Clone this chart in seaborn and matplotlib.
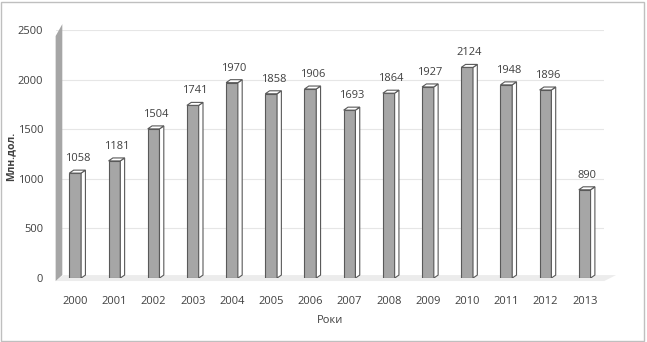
import matplotlib
matplotlib.use("Agg")
import matplotlib.pyplot as plt
import seaborn as sns
import pandas as pd
from matplotlib.patches import Polygon, Rectangle

years = ["2000", "2001", "2002", "2003", "2004", "2005", "2006",
         "2007", "2008", "2009", "2010", "2011", "2012", "2013"]
values = [1058, 1181, 1504, 1741, 1970, 1858, 1906,
          1693, 1864, 1927, 2124, 1948, 1896, 890]
yticks = [0, 500, 1000, 1500, 2000, 2500]

df = pd.DataFrame({"year": years, "value": values})

sns.set_style("white")
plt.rcParams['font.family'] = ['Open Sans', 'DejaVu Sans']

fig = plt.figure(figsize=(6.47, 3.42), dpi=100)
ax = fig.add_axes([0.086, 0.187, 0.848, 0.725])

sns.barplot(data=df, x="year", y="value", color="#a6a6a6", width=0.3,
            edgecolor="#595959", linewidth=0.8, ax=ax, zorder=3)

ax.set_xlim(-0.5, 13.5)
ax.set_ylim(0, 2500)
ax.set_yticks(yticks)
ax.grid(axis="y", color="#e6e6e6", linewidth=0.8, zorder=0)
ax.set_axisbelow(True)
for s in ax.spines.values():
    s.set_visible(False)
ax.tick_params(axis="both", length=0, labelsize=8, colors="#404040", pad=9)
ax.tick_params(axis="x", pad=13)
ax.set_xlabel("Роки", fontsize=8, color="#404040", labelpad=6)
ax.set_ylabel("Млн.дол.", fontsize=7.5, color="#404040", fontweight="bold")
ax.yaxis.set_label_coords(-0.072, 0.49)

# pseudo-3D side and top faces derived from bar geometry
dx = 0.11
dy = 30
for p in ax.patches:
    x0 = p.get_x(); w = p.get_width(); h = p.get_height()
    side = Polygon([[x0 + w, 0], [x0 + w + dx, dy], [x0 + w + dx, h + dy], [x0 + w, h]],
                   closed=True, facecolor="white", edgecolor="#595959",
                   linewidth=0.8, zorder=4)
    top = Polygon([[x0, h], [x0 + dx, h + dy], [x0 + w + dx, h + dy], [x0 + w, h]],
                  closed=True, facecolor="white", edgecolor="#595959",
                  linewidth=0.8, zorder=4)
    ax.add_patch(side)
    ax.add_patch(top)
    ax.text(x0 + w / 2 + dx / 2, h + dy + 60, f"{int(round(h))}", ha="center",
            va="bottom", fontsize=8, color="#404040", zorder=5)

# floor
floor = Polygon([[-0.5, -30], [13.5, -30], [13.8, 30], [-0.3, 30]], closed=True,
                facecolor="#ececec", edgecolor="none", zorder=1, clip_on=False)
ax.add_patch(floor)
# left wall
wall = Polygon([[-0.5, -30], [-0.5, 2440], [-0.33, 2560], [-0.33, 30]], closed=True,
               facecolor="#a6a6a6", edgecolor="none", zorder=2, clip_on=False)
ax.add_patch(wall)

fig.patches.append(Rectangle((0.002, 0.004), 0.993, 0.99, transform=fig.transFigure,
                             fill=False, edgecolor="#bfbfbf", linewidth=1))

fig.savefig("out.png", dpi=100)
